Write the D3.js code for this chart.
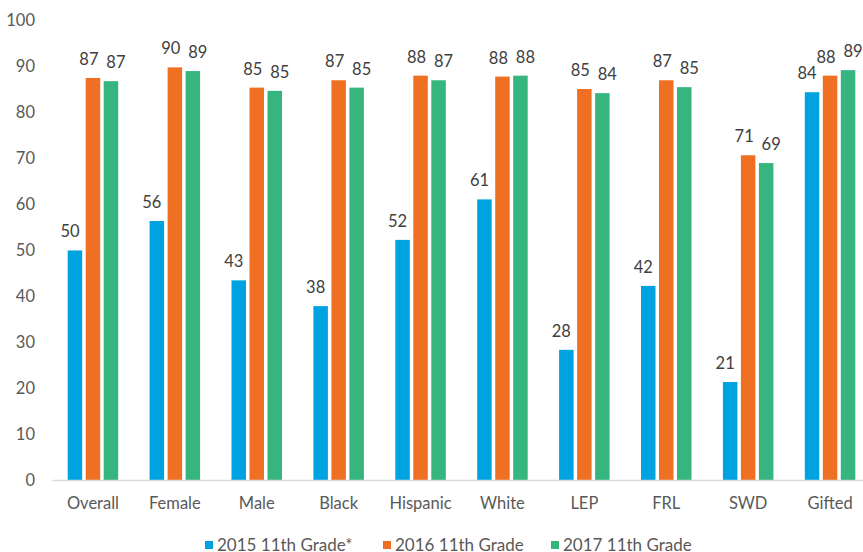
<!DOCTYPE html>
<html>
<head>
<meta charset="utf-8">
<script src="https://cdn.jsdelivr.net/npm/d3@7"></script>
<style>
  body { margin: 0; background: #fff; }
  svg { display: block; font-family: Lato, "Open Sans", sans-serif; }
</style>
</head>
<body>
<svg id="chart"></svg>
<script>
const categories = ["Overall", "Female", "Male", "Black", "Hispanic", "White", "LEP", "FRL", "SWD", "Gifted"];
const seriesNames = ["2015 11th Grade*", "2016 11th Grade", "2017 11th Grade"];
const values2015 = [49.9, 56.3, 43.4, 37.8, 52.2, 61.0, 28.3, 42.2, 21.3, 84.3];
const values2016 = [87.4, 89.7, 85.3, 86.9, 87.9, 87.7, 85.0, 86.9, 70.6, 87.9];
const values2017 = [86.7, 88.9, 84.6, 85.3, 86.9, 87.9, 84.1, 85.4, 68.9, 89.1];
const yTicks = [0, 10, 20, 30, 40, 50, 60, 70, 80, 90, 100];
const colors = ["#00A3E0", "#F07023", "#36B57E"];

const width = 863, height = 552;
const margin = { top: 20, right: -8, bottom: 72, left: 52 };
const innerWidth = width - margin.left - margin.right;
const innerHeight = height - margin.top - margin.bottom;

const svg = d3.select("#chart").attr("width", width).attr("height", height);
const g = svg.append("g").attr("transform", `translate(${margin.left}, ${margin.top})`);

const xScale = d3.scaleBand().domain(categories).range([0, innerWidth]);
const yScale = d3.scaleLinear().domain([0, 100]).range([innerHeight, 0]);
const barStep = 18, barWidth = 14.5;
const xInner = d3.scaleBand().domain(seriesNames).range([0, barStep * 3]);
const labelShift = [-5, -4, 5];

const data = categories.map((c, i) => ({
  cat: c,
  vals: [values2015[i], values2016[i], values2017[i]]
}));

// y axis labels
const yAxis = d3.axisLeft(yScale).tickValues(yTicks).tickSize(0).tickPadding(17);
g.append("g").attr("class", "y-axis").call(yAxis)
  .call(a => a.select(".domain").remove())
  .selectAll("text")
  .attr("fill", "#595959").style("font-size", "16.5px").style("font-family", "Lato, sans-serif");

// bars
const groups = g.selectAll(".grp").data(data).join("g").attr("class", "grp")
  .attr("transform", d => `translate(${xScale(d.cat) + xScale.bandwidth() / 2 - barStep * 1.5}, 0)`);

groups.selectAll("rect").data(d => d.vals.map((v, k) => ({ v, k })))
  .join("rect")
  .attr("x", d => xInner(seriesNames[d.k]) + (barStep - barWidth) / 2)
  .attr("y", d => yScale(d.v))
  .attr("width", barWidth)
  .attr("height", d => innerHeight - yScale(d.v))
  .attr("fill", d => colors[d.k]);

groups.selectAll(".val").data(d => d.vals.map((v, k) => ({ v, k })))
  .join("text").attr("class", "val")
  .attr("x", d => xInner(seriesNames[d.k]) + barStep / 2 + labelShift[d.k])
  .attr("y", d => yScale(d.v) - 13)
  .attr("text-anchor", "middle")
  .attr("fill", "#404040")
  .style("font-size", "16.5px")
  .text(d => Math.round(d.v));

// x axis
const xAxis = d3.axisBottom(xScale).tickSize(0).tickPadding(17);
g.append("g").attr("class", "x-axis").attr("transform", `translate(0, ${innerHeight})`).call(xAxis)
  .call(a => a.select(".domain").attr("stroke", "#D9D9D9").attr("stroke-width", 1.5))
  .selectAll("text")
  .attr("fill", "#595959").style("font-size", "16.5px").style("font-family", "Lato, sans-serif");

// legend
const legendX = [205, 383, 551];
const legend = svg.append("g").selectAll("g").data(seriesNames).join("g")
  .attr("transform", (d, i) => `translate(${legendX[i]}, 545)`);
legend.append("rect").attr("x", 0).attr("y", -4).attr("width", 8).attr("height", 8)
  .attr("fill", (d, i) => colors[i]);
legend.append("text").attr("x", 12).attr("y", 5.5)
  .attr("fill", "#595959").style("font-size", "17px").text(d => d);
</script>
</body>
</html>
